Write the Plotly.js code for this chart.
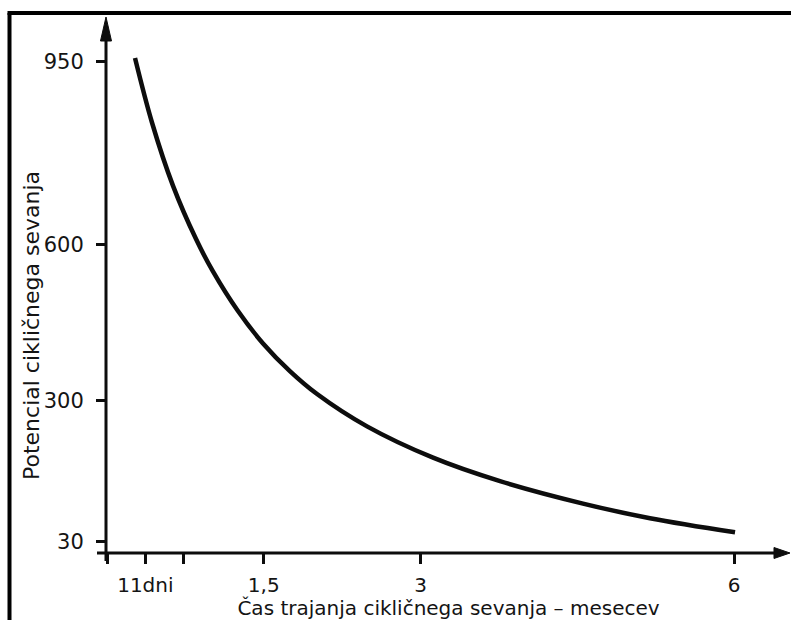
<!DOCTYPE html>
<html><head><meta charset="utf-8">
<script src="https://cdn.plot.ly/plotly-3.0.1.min.js"></script>
<style>html,body{margin:0;padding:0;background:#fff;}#chart{width:791px;height:620px;}</style>
</head><body><div id="chart"></div>
<script>
// ---- data ----
const months = [0.268, 0.431, 0.632, 0.852, 1.014, 1.25, 1.493, 1.75, 2.010, 2.488, 3.120, 3.761, 4.555, 5.196, 6.010];
const potential = [957, 833, 712, 610, 548, 473, 410, 357, 313, 251, 191, 146, 103, 75, 48];
const xTickVals = [0, 0.367, 0.733, 1.5, 3, 6];
const xTickText = ['', '11dni', '', '1,5', '3', '6'];
const yTickVals = [30, 300, 600, 950];
const yTickText = ['30', '300', '600', '950'];
const xTitle = 'Čas trajanja cikličnega sevanja – mesecev';
const yTitle = 'Potencial cikličnega sevanja';

// ---- geometry helpers (pixel -> paper) for decorative frame/arrows ----
const WIDTH = 791, HEIGHT = 620, ML = 107, MR = 1, MT = 17, MB = 67;
const PW = WIDTH - ML - MR, PH = HEIGHT - MT - MB;
const px = v => (v - ML) / PW;
const py = v => (HEIGHT - MB - v) / PH;
const ink = '#0d0d0d';
const txt = '#141414';
const font = 'DejaVu Sans, Verdana, sans-serif';

function tri(points) {
  return 'M' + points.map(p => px(p[0]).toFixed(5) + ',' + py(p[1]).toFixed(5)).join(' L') + ' Z';
}

const shapes = [
  // y axis line
  {type: 'line', xref: 'paper', yref: 'paper', x0: px(106), x1: px(106), y0: py(561), y1: py(36), line: {color: ink, width: 3}},
  // x axis line
  {type: 'line', xref: 'paper', yref: 'paper', x0: px(97), x1: px(778), y0: py(553), y1: py(553), line: {color: ink, width: 3}},
  // y arrow head
  {type: 'path', xref: 'paper', yref: 'paper', path: tri([[106, 17], [100.5, 41], [111.5, 41]]), fillcolor: ink, line: {color: ink, width: 1}},
  // x arrow head
  {type: 'path', xref: 'paper', yref: 'paper', path: tri([[790, 553], [774, 547.5], [774, 558.5]]), fillcolor: ink, line: {color: ink, width: 1}},
  // frame (left + top)
  {type: 'line', xref: 'paper', yref: 'paper', x0: px(9.5), x1: px(9.5), y0: py(13), y1: py(630), line: {color: '#000', width: 4}},
  {type: 'line', xref: 'paper', yref: 'paper', x0: px(7.5), x1: px(800), y0: py(13), y1: py(13), line: {color: '#000', width: 4}}
];

const trace = {
  x: months, y: potential, type: 'scatter', mode: 'lines',
  line: {color: ink, width: 4.5, shape: 'spline', smoothing: 1},
  hoverinfo: 'skip', cliponaxis: false
};

const layout = {
  width: WIDTH, height: HEIGHT,
  margin: {l: ML, r: MR, t: MT, b: MB, pad: 0},
  paper_bgcolor: '#ffffff', plot_bgcolor: '#ffffff',
  showlegend: false,
  font: {family: font, color: txt, size: 20},
  xaxis: {
    range: [0, (790 - ML) / 104.5], fixedrange: true,
    showgrid: false, zeroline: false, showline: false,
    tickmode: 'array', tickvals: xTickVals, ticktext: xTickText,
    ticks: 'outside', ticklen: 10, tickwidth: 3, tickcolor: ink,
    tickfont: {family: font, size: 20, color: txt},
    ticklabelstandoff: 4,
    title: {text: xTitle, font: {family: font, size: 20, color: txt}, standoff: 2},
    automargin: false
  },
  yaxis: {
    range: [30 - 11.3 / 0.5217, 950 + 44.7 / 0.5217], fixedrange: true,
    showgrid: false, zeroline: false, showline: false,
    tickmode: 'array', tickvals: yTickVals, ticktext: yTickText,
    ticks: 'outside', ticklen: 10, tickwidth: 3, tickcolor: ink,
    tickfont: {family: font, size: 21, color: txt},
    ticklabelstandoff: 8,
    automargin: false
  },
  shapes: shapes,
  annotations: [{
    text: yTitle, xref: 'paper', yref: 'paper', x: px(31), y: py(326),
    xanchor: 'center', yanchor: 'middle', textangle: -90, showarrow: false,
    font: {family: font, size: 22, color: txt}
  }]
};

Plotly.newPlot('chart', [trace], layout, {staticPlot: true, displayModeBar: false});
</script>
</body></html>
